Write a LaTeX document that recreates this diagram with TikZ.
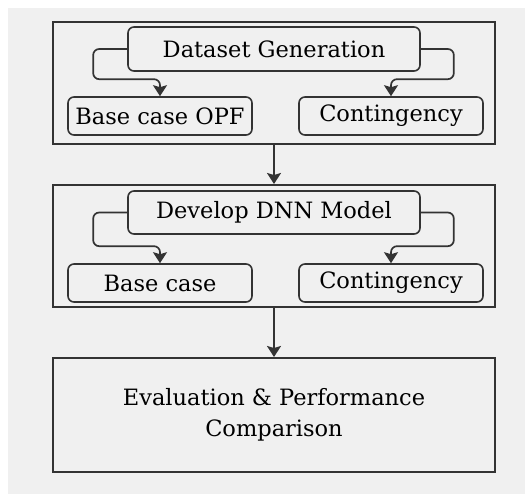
\documentclass[tikz,border=0pt]{standalone}
\usepackage{fontspec}
\setmainfont{DejaVu Serif}
\usetikzlibrary{arrows.meta}

\definecolor{ink}{HTML}{333333}
\definecolor{paper}{HTML}{F0F0F0}

\tikzset{
    stage/.style={draw=ink, line width=2pt, minimum width=442pt, inner sep=0pt, align=center,
        font=\fontsize{22.5}{31}\selectfont},
    task/.style={draw=ink, line width=1.6pt, rounded corners=6pt, inner sep=0pt,
        font=\fontsize{22.5}{26}\selectfont},
    flow/.style={draw=ink, line width=1.7pt, rounded corners=6pt,
        -{Stealth[length=11pt, width=14pt, inset=2pt]}},
}

\begin{document}
\begin{tikzpicture}[x=1pt, y=-1pt]

    % canvas
    \useasboundingbox (0,0) rectangle (525,494);
    \fill[paper] (8,8) rectangle (525,494);

    % Stage 1 - data generation
    \node[stage, minimum height=122pt] (stagea) at (274,83) {};
    \node[task, minimum width=292pt, minimum height=44pt] (gena) at (274,49) {Dataset Generation};
    \node[task, minimum width=184pt, minimum height=38pt] (basea) at (160,116) {Base case OPF};
    \node[task, minimum width=184pt, minimum height=38pt] (conta) at (391,116) {Contingency};
    \draw[flow] (gena.west) -- ++(-34,0) |- ([yshift=17pt]basea.north) -- (basea.north);
    \draw[flow] (gena.east) -- ++(33,0) |- ([yshift=17pt]conta.north) -- (conta.north);

    % Stage 2 - DNN model
    \node[stage, minimum height=122pt] (stageb) at (274,246) {};
    \node[task, minimum width=292pt, minimum height=43pt] (genb) at (274,212.5) {Develop DNN Model};
    \node[task, minimum width=184pt, minimum height=38pt] (baseb) at (160,283) {Base case};
    \node[task, minimum width=184pt, minimum height=38pt] (contb) at (391,283) {Contingency};
    \draw[flow] (genb.west) -- ++(-34,0) |- ([yshift=17pt]baseb.north) -- (baseb.north);
    \draw[flow] (genb.east) -- ++(33,0) |- ([yshift=17pt]contb.north) -- (contb.north);

    % Stage 3 - evaluation
    \node[stage, minimum height=114pt] (stagec) at (274,415) {Evaluation \& Performance\\Comparison};

    % Stage links
    \draw[flow] (stagea) -- (stageb);
    \draw[flow] (stageb) -- (stagec);

\end{tikzpicture}
\end{document}
